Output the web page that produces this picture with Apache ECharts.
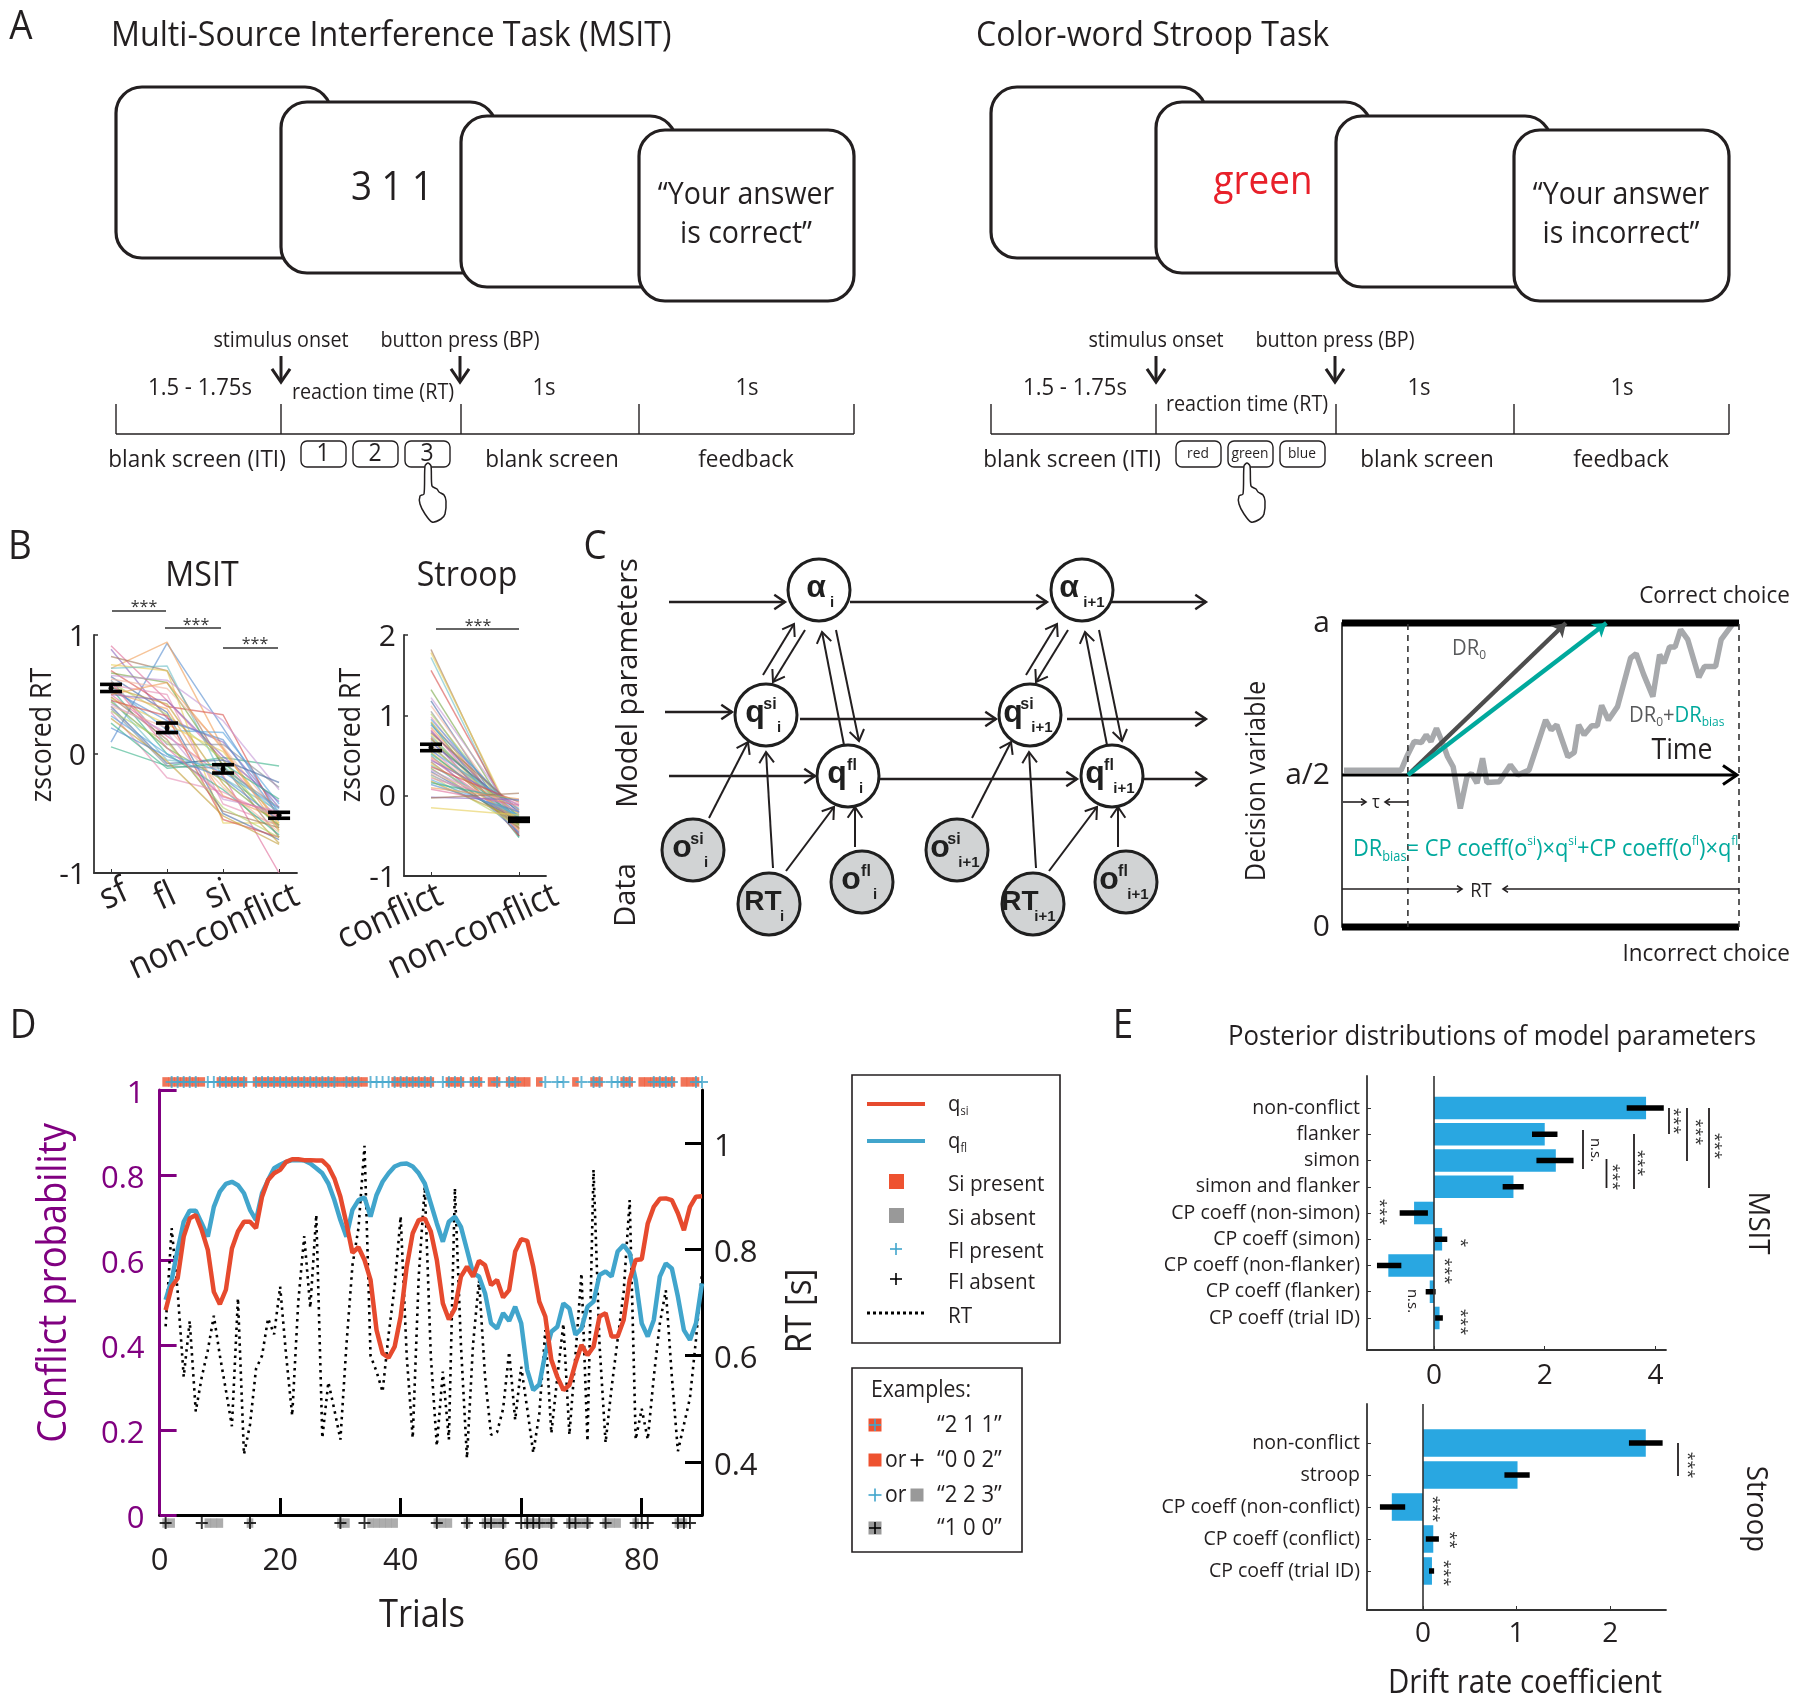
<!DOCTYPE html>
<html>
<head>
<meta charset="utf-8">
<title>Conflict task figure</title>
<style>
  html, body { margin: 0; padding: 0; background: #fff; }
  #chart { width: 1800px; height: 1699px; }
</style>
<script src="https://cdn.jsdelivr.net/npm/echarts@6/dist/echarts.min.js"></script>
</head>
<body>
<div id="chart"></div>
<script>
// panel B
var msitConditions = ['sf', 'fl', 'si', 'non-conflict'];
var stroopConditions = ['conflict', 'non-conflict'];
var msitSubjects = [
  [.06,-.10,-.03,-.10],[.10,.93,.22,-.50],[.72,.94,.05,-.60],[.91,.45,-.05,-.55],[.88,.30,.10,-.45],
  [.82,.70,-.10,-.70],[.75,.70,-.58,-.58],[.72,.74,-.20,-.48],[.70,.40,.33,-.55],[.68,.60,-.10,-.62],
  [.66,.62,.28,-.30],[.65,.35,-.50,-.72],[.63,.55,.06,-.52],[.62,.08,.08,-.28],[.60,.33,-.05,-.65],
  [.58,.50,-.42,-.60],[.57,.20,.18,-.42],[.56,.42,-.25,-.75],[.55,.00,-.30,-.68],[.54,.28,.12,-.52],
  [.52,.38,-.35,-.55],[.50,.15,-.18,-1.0],[.50,.45,-.02,-.40],[.48,.12,-.48,-.62],[.47,.25,.02,-.58],
  [.46,-.05,-.10,-.50],[.45,.32,-.55,-.70],[.44,.05,-.22,-.60],[.42,.18,-.38,-.48],[.40,-.08,-.05,-.24],
  [.40,.22,-.28,-.66],[.38,-.10,-.12,-.45],[.36,.10,-.45,-.70],[.35,-.20,-.32,-.54],[.32,.00,-.15,-.46],
  [.30,-.06,-.52,-.76],[.26,-.12,-.08,-.38],[.22,-.02,-.20,-.56],[.50,.60,.04,-.64],[.60,.05,-.36,-.50]
];
var msitMean = [.552, .22, -.128, -.515];
var msitLow = [.525, .18, -.16, -.54];
var msitHigh = [.585, .26, -.09, -.49];

var stroopSubjects = [
  [1.82,-.50],[1.78,-.45],[1.72,-.52],[1.56,-.42],[1.32,-.42],[1.22,-.30],[1.18,-.50],[1.12,-.38],[1.05,-.48],[1.02,-.35],
  [.98,-.44],[.95,-.28],[.92,-.40],[.90,-.52],[.88,-.22],[.85,-.36],[.82,-.46],[.80,-.30],[.78,-.18],[.76,-.42],
  [.74,-.34],[.72,-.50],[.70,-.26],[.68,-.38],[.66,-.20],[.64,-.44],[.62,-.32],[.60,-.24],[.58,-.40],[.56,-.16],
  [.54,-.36],[.52,-.28],[.50,-.46],[.48,-.22],[.46,-.34],[.44,-.12],[.42,-.40],[.40,-.30],[.38,-.26],[.36,-.08],
  [.34,-.36],[.32,-.20],[.30,-.32],[.28,-.14],[.26,-.28],[.24,-.38],[.22,-.10],[.20,-.24],[.18,-.30],[.16,-.06],
  [.14,-.20],[.10,-.04],[.08,-.12],[-.02,-.05],[-.03,.03],[-.15,-.24]
];
var stroopMean = [.6, -.3];
var stroopLow = [.56, -.32];
var stroopHigh = [.64, -.28];

var subjectColors = ['#3cb38a','#5b8fd0','#f0a05a','#e06f9d','#8e6bbf','#a5785a','#e6cf5a','#6fc0c8','#d9534f',
  '#7aa84a','#c79ad6','#4d6fa8','#f2b6a0','#8a8f99','#b5d36b','#e58fb5','#5aa7e0','#c4a03c'];

// panel C drift diffusion trace
var walkTime = [.5,14.9,16.3,18.2,20,21.2,22.4,23.8,25.2,26.6,28,29.8,31.5,32.6,34,35.4,36.5,39.6,42.4,44.3,47.1,51.3,52.7,54.1,
  56.9,58.5,59.6,61,62.9,64.3,65.4,67.1,69.4,72.7,74.1,76,78.3,80,81.1,82.5,83.9,85.3,87.1,89.9,91.3,94.1,95.5,98.3];
var walkValue = [.516,.516,.56,.61,.607,.632,.61,.654,.61,.56,.527,.39,.495,.505,.473,.555,.475,.478,.533,.5,.516,.681,.648,.665,
  .56,.574,.665,.632,.662,.662,.729,.681,.725,.885,.899,.83,.758,.896,.868,.921,.921,.978,.945,.822,.857,.857,.945,.995];
var tau = 16.6;
var dr0End = 56.4;
var drBiasEnd = 66.6;
var boundaryTicks = [0, .5, 1];
var boundaryLabels = {0: '0', 0.5: 'a/2', 1: 'a'};

// panel D
var qSi = [.482,.537,.557,.655,.698,.706,.67,.624,.525,.496,.53,.627,.667,.69,.69,.675,.749,.788,.804,.812,.831,.837,.837,.835,.835,.834,.834,.82,.792,.749,
  .686,.617,.63,.6,.553,.435,.38,.37,.396,.467,.584,.663,.694,.698,.667,.6,.498,.46,.486,.561,.584,.561,.598,.588,.541,.553,.512,.529,.62,.649,
  .645,.584,.502,.467,.365,.325,.294,.306,.357,.4,.376,.396,.467,.475,.42,.42,.459,.553,.6,.602,.686,.725,.744,.745,.741,.71,.67,.725,.749,.75];
var qFl = [.506,.553,.624,.69,.716,.716,.686,.655,.725,.761,.779,.784,.776,.757,.718,.694,.757,.788,.816,.824,.831,.835,.835,.834,.827,.816,.804,.78,.741,.694,
  .655,.718,.741,.747,.702,.753,.784,.804,.82,.826,.827,.82,.804,.78,.733,.686,.643,.69,.702,.678,.624,.569,.561,.522,.451,.439,.475,.457,.49,.451,
  .341,.294,.307,.38,.431,.443,.498,.486,.424,.439,.49,.502,.565,.573,.561,.62,.635,.616,.553,.451,.42,.459,.561,.592,.58,.514,.435,.412,.451,.545];
var rtTrace = [.655,.84,.72,.56,.665,.495,.56,.61,.675,.6,.535,.467,.708,.414,.47,.575,.6,.67,.64,.73,.6,.487,.7,.825,.69,.865,.445,.55,.498,.442,
  .62,.77,.84,.995,.6,.57,.532,.64,.73,.862,.6,.445,.75,.918,.6,.43,.57,.442,.915,.62,.407,.62,.742,.56,.451,.456,.5,.607,.479,.579,
  .5,.417,.49,.648,.454,.56,.66,.451,.6,.755,.439,.95,.62,.436,.54,.63,.72,.893,.442,.5,.442,.56,.66,.723,.56,.42,.47,.52,.63,.755];
var siPresentTrials = [1,2,3,4,5,6,7,10,11,12,13,14,16,17,18,19,20,21,22,23,24,25,26,27,28,29,30,31,32,33,34,39,40,41,42,43,44,45,
  48,49,50,52,53,55,56,58,59,60,61,63,69,72,73,77,78,80,81,82,83,84,85,87,88,89];
var siAbsentTrials = [1,2,8,9,10,15,30,31,35,36,37,38,39,46,47,48,51,54,55,56,57,61,62,63,64,65,68,69,70,71,74,75,76,79,86,87];
var flPresentTrials = [2,3,4,5,6,8,9,10,11,12,13,14,16,17,18,19,20,21,22,23,24,25,26,27,28,29,31,32,33,35,36,37,38,39,40,41,42,43,44,45,
  47,48,49,50,52,53,56,58,59,64,66,67,70,72,73,75,76,77,78,82,83,84,85,89,90];
var flAbsentTrials = [1,7,15,30,34,46,51,54,55,57,60,61,62,63,65,68,69,71,74,79,80,81,86,87,88];

// panel E
var msitParams = ['non-conflict','flanker','simon','simon and flanker','CP coeff (non-simon)','CP coeff (simon)','CP coeff (non-flanker)','CP coeff (flanker)','CP coeff (trial ID)'];
var msitCoef = [3.83,2.0,2.2,1.435,-.36,.147,-.825,-.077,.1];
var msitCoefLow = [3.48,1.77,1.85,1.24,-.62,.01,-1.03,-.15,.02];
var msitCoefHigh = [4.15,2.23,2.52,1.62,-.11,.24,-.59,.03,.16];
var stroopParams = ['non-conflict','stroop','CP coeff (non-conflict)','CP coeff (conflict)','CP coeff (trial ID)'];
var stroopCoef = [2.38,1.01,-.333,.11,.096];
var stroopCoefLow = [2.2,.87,-.46,.03,.064];
var stroopCoefHigh = [2.56,1.14,-.19,.17,.119];

var FONT = '"Open Sans"';
var INK = '#231f20';
var RED = '#e64a2e';
var ORANGE = '#ee5230';
var BLUE = '#41a5cc';
var TEAL = '#00a99d';
var PURPLE = '#800080';
var BARBLUE = '#29a7e1';
var PLUS = 'path://M4.2 0h1.6v4.2H10v1.6H5.8V10H4.2V5.8H0V4.2h4.2z';

var gfx = [];
var measureCtx = document.createElement('canvas').getContext('2d');

function txt(text, x, y, size, o) {
  o = o || {};
  gfx.push({
    type: 'text', x: x, y: o.rot ? y : y + 1.5, rotation: o.rot || 0, scaleX: o.sx || .92, z: 10,
    style: {
      text: text, x: 0, y: 0,
      font: (o.weight || 'normal') + ' ' + size + 'px ' + (o.font || FONT),
      fill: o.fill || INK,
      textAlign: o.align || 'center', textVerticalAlign: 'middle',
      align: o.align || 'center', verticalAlign: 'middle'
    }
  });
}
// text made of pieces with sub and superscripts
function runs(x, y, parts, sx) {
  sx = sx || .92;
  parts.forEach(function (p) {
    measureCtx.font = p[1] + 'px ' + FONT;
    txt(p[0], x, y + (p[2] || 0), p[1], {align: 'left', fill: p[3], sx: sx});
    x += measureCtx.measureText(p[0]).width * sx;
  });
}
function line(x1, y1, x2, y2, w, color, dash) {
  gfx.push({type: 'line', z: 5, shape: {x1: x1, y1: y1, x2: x2, y2: y2},
    style: {stroke: color || INK, lineWidth: w || 2, lineDash: dash || null}});
}
function arrow(x1, y1, x2, y2, w, head, color) {
  line(x1, y1, x2, y2, w, color);
  var a = Math.atan2(y2 - y1, x2 - x1);
  var h = head || 10;
  gfx.push({type: 'polyline', z: 5, shape: {points: [
    [x2 - h * Math.cos(a - .6), y2 - h * Math.sin(a - .6)], [x2, y2],
    [x2 - h * Math.cos(a + .6), y2 - h * Math.sin(a + .6)]]},
    style: {stroke: color || INK, lineWidth: w || 2, fill: null}});
}
function box(x, y, w, h, r, lw, fill) {
  gfx.push({type: 'rect', z: 4, shape: {x: x, y: y, width: w, height: h, r: r},
    style: {fill: fill || '#fff', stroke: INK, lineWidth: lw}});
}
function hand(x, y) {
  var pts = [[-4,30],[-3,2],[0,-1],[3,2],[4,22],[9,25],[11,28],[16,31],[18,37],[17,50],[13,55],[4,58],[-3,50],[-8,40],[-8,32]];
  gfx.push({type: 'polygon', x: x, y: y, z: 6, shape: {points: pts, smooth: .25},
    style: {fill: '#fff', stroke: INK, lineWidth: 1.5}});
}
function stars(s, x, y, rotated) {
  if (rotated) txt(s, x - 3, y, 16, {rot: -Math.PI / 2, sx: 1, fill: '#333'});
  else txt(s, x, y + 3, 16, {sx: 1, fill: '#333'});
}

// panel A, dx shifts the second task
function taskPanel(dx, answer, keys, keySize, hx, rtX, rtY) {
  [[116, 87], [281, 102], [461, 116], [639, 130]].forEach(function (c) {
    box(c[0] + dx, c[1], 215, 171, 26, 3.2);
  });
  txt(answer[0], 746 + dx, 194, 31);
  txt(answer[1], 746 + dx, 233, 31);
  line(116 + dx, 434, 854 + dx, 434, 1.6);
  [116, 281, 461, 639, 854].forEach(function (x) { line(x + dx, 404, x + dx, 434, 1.4); });
  txt('stimulus onset', 281 + dx, 339, 21.5);
  txt('button press (BP)', 460 + dx, 339, 21.5);
  arrow(281 + dx, 356, 281 + dx, 382, 3, 16);
  arrow(460 + dx, 356, 460 + dx, 382, 3, 16);
  txt('1.5 - 1.75s', 200 + dx, 387, 24);
  txt('reaction time (RT)', rtX, rtY, 21.5);
  txt('1s', 544 + dx, 387, 24);
  txt('1s', 747 + dx, 387, 24);
  txt('blank screen (ITI)', 197 + dx, 459, 24.5);
  txt('blank screen', 552 + dx, 459, 24.5);
  txt('feedback', 746 + dx, 459, 24.5);
  keys.forEach(function (k, i) {
    var x = 301 + dx + i * 52;
    box(x, 441, 45, 26, 6, 1.4);
    txt(k, x + 22, 452, keySize);
  });
  hand(hx, 464);
}

txt('A', 21, 26, 40);
txt('Multi-Source Interference Task (MSIT)', 111, 34.5, 35, {align: 'left'});
txt('Color-word Stroop Task', 976, 34.5, 35, {align: 'left'});
taskPanel(0, ['\u201cYour answer', 'is correct\u201d'], ['1', '2', '3'], 25, 428, 373, 391);
txt('3 1 1', 392, 187, 40);
taskPanel(875, ['\u201cYour answer', 'is incorrect\u201d'], ['red', 'green', 'blue'], 15, 1247, 1247, 403);
txt('green', 1263, 181, 40, {fill: '#e8202a'});

// panel letters and panel B text
txt('B', 20, 546, 40);
txt('C', 595, 546, 40);
txt('D', 23, 1025, 40);
txt('E', 1123, 1025, 40);
txt('MSIT', 202, 575, 35);
txt('Stroop', 467, 575, 35);
txt('zscored RT', 43, 735, 29, {rot: Math.PI / 2});
txt('zscored RT', 352, 735, 29, {rot: Math.PI / 2});
var tilt = 24.6 * Math.PI / 180;
txt(msitConditions[0], 114, 895, 36, {rot: tilt});
txt(msitConditions[1], 165, 897, 36, {rot: tilt});
txt(msitConditions[2], 218, 895, 36, {rot: tilt});
txt(msitConditions[3], 214, 932, 36, {rot: tilt});
txt(stroopConditions[0], 390, 917, 36, {rot: tilt});
txt(stroopConditions[1], 473, 932, 36, {rot: tilt});
line(112, 611, 166, 611, 1.4, '#333');
line(165, 628, 221, 628, 1.4, '#333');
line(223, 648, 278, 648, 1.4, '#333');
line(436, 629, 519, 629, 1.4, '#333');
stars('***', 144, 603);
stars('***', 196, 621);
stars('***', 255, 640);
stars('***', 478, 622);

// panel C graphical model
txt('Model parameters', 629, 683, 29, {rot: Math.PI / 2, sx: 1});
txt('Data', 627, 895, 29, {rot: Math.PI / 2, sx: 1});
var NODE_FONT = '"Liberation Sans"';
function nodeText(text, x, y, font) {
  gfx.push({type: 'text', x: x, y: y, z: 8, style: {text: text, font: font + ' ' + NODE_FONT,
    fill: '#1f1f1f', textAlign: 'center', textVerticalAlign: 'middle', align: 'center', verticalAlign: 'middle'}});
}
function node(cx, cy, fill, main, sup, sub, next) {
  gfx.push({type: 'circle', z: 7, shape: {cx: cx, cy: cy, r: 31}, style: {fill: fill, stroke: '#1f1f1f', lineWidth: 3}});
  var mx = next ? -17 : -11;
  if (main === 'RT') mx = next ? -13 : -6;
  if (main === '\u03b1') mx = next ? -13 : -3;
  nodeText(main, cx + mx, cy - 2, 'bold ' + (main === 'RT' ? 28 : 32) + 'px');
  if (sup) nodeText(sup, cx + (next ? -3 : 4), cy - 10, 'bold 16px');
  nodeText(sub, cx + (next ? 12 : 13), cy + 13, 'bold 15px');
}
arrow(669, 602, 785, 602, 2.4, 13);
arrow(850, 602, 1047, 602, 2.4, 13);
arrow(1111, 602, 1206, 602, 2.4, 13);
arrow(665, 712, 732, 712, 2.4, 13);
arrow(800, 719, 996, 719, 2.4, 13);
arrow(1067, 719, 1206, 719, 2.4, 13);
arrow(669, 776, 815, 776, 2.4, 13);
arrow(880, 779, 1077, 779, 2.4, 13);
arrow(1143, 779, 1206, 779, 2.4, 13);
[0, 263].forEach(function (dx) {
  arrow(763 + dx, 675, 794 + dx, 624, 2, 13);
  arrow(805 + dx, 630, 773 + dx, 682, 2, 13);
  arrow(844 + dx, 745, 822 + dx, 632, 2, 13);
  arrow(836 + dx, 630, 859 + dx, 741, 2, 13);
  arrow(709 + dx, 818, 748 + dx, 742, 2, 13);
  arrow(773 + dx, 868, 766 + dx, 752, 2, 13);
  arrow(786 + dx, 871, 834 + dx, 807, 2, 13);
  arrow(855 + dx, 847, 855 + dx, 807, 2, 13);
});
var GREYNODE = '#d1d3d4';
node(819, 590, '#fff', '\u03b1', null, 'i');
node(1082, 590, '#fff', '\u03b1', null, 'i+1', true);
node(766, 715, '#fff', 'q', 'si', 'i');
node(1030, 715, '#fff', 'q', 'si', 'i+1', true);
node(848, 776, '#fff', 'q', 'fl', 'i');
node(1112, 776, '#fff', 'q', 'fl', 'i+1', true);
node(693, 850, GREYNODE, 'o', 'si', 'i');
node(957, 850, GREYNODE, 'o', 'si', 'i+1', true);
node(769, 904, GREYNODE, 'RT', null, 'i');
node(1033, 904, GREYNODE, 'RT', null, 'i+1', true);
node(862, 882, GREYNODE, 'o', 'fl', 'i');
node(1126, 882, GREYNODE, 'o', 'fl', 'i+1', true);

// panel C drift diffusion text
txt('Decision variable', 1257, 781, 27.5, {rot: Math.PI / 2});
txt('Correct choice', 1790, 595, 24.5, {align: 'right'});
txt('Incorrect choice', 1790, 953, 24.5, {align: 'right'});
runs(1452, 647, [['DR', 22, 0, '#58595b'], ['0', 13, 7, '#58595b']]);
runs(1629, 714, [['DR', 22, 0, '#58595b'], ['0', 13, 7, '#58595b'], ['+', 22, 0, '#58595b'], ['DR', 22, 0, TEAL], ['bias', 13, 7, TEAL]]);
txt('Time', 1682, 749, 29);
arrow(1342, 775, 1737, 775, 3, 17, '#000');
arrow(1343, 802, 1366, 802, 1.6, 6);
arrow(1408, 802, 1385, 802, 1.6, 6);
txt('\u03c4', 1376, 801, 18);
arrow(1342, 889, 1462, 889, 1.6, 6);
arrow(1739, 889, 1503, 889, 1.6, 6);
txt('RT', 1481, 890, 20);
runs(1353, 848, [['DR', 24, 0, TEAL], ['bias', 14, 8, TEAL], ['= CP coeff(o', 24, 0, TEAL], ['si', 13, -8, TEAL], [')\u00d7q', 24, 0, TEAL], ['si', 13, -8, TEAL],
  ['+CP coeff(o', 24, 0, TEAL], ['fl', 13, -8, TEAL], [')\u00d7q', 24, 0, TEAL], ['fl', 13, -8, TEAL]], .91);

// panel D side text and legends
txt('Conflict probability', 55, 1283, 39.5, {rot: Math.PI / 2, fill: PURPLE});
txt('RT [s]', 801, 1311, 36, {rot: Math.PI / 2});
txt('Trials', 422, 1615, 37.5);
box(852, 1075, 208, 268, 0, 1.6);
line(867, 1104, 925, 1104, 4, RED);
line(867, 1141, 925, 1141, 4, BLUE);
runs(948, 1103, [['q', 22], ['si', 12, 7]]);
runs(948, 1140, [['q', 22], ['fl', 12, 7]]);
gfx.push({type: 'rect', z: 6, shape: {x: 889, y: 1174, width: 15, height: 15}, style: {fill: ORANGE}});
gfx.push({type: 'rect', z: 6, shape: {x: 889, y: 1208, width: 15, height: 15}, style: {fill: '#999'}});
function legendPlus(x, y, color, s) {
  s = s || 6;
  line(x - s, y, x + s, y, 1.6, color);
  line(x, y - s, x, y + s, 1.6, color);
}
legendPlus(896, 1249, BLUE);
legendPlus(896, 1279, '#000');
line(867, 1313, 925, 1313, 3, '#000', [3, 3]);
txt('Si present', 948, 1183.5, 22.5, {align: 'left'});
txt('Si absent', 948, 1217, 22.5, {align: 'left'});
txt('Fl present', 948, 1250, 22.5, {align: 'left'});
txt('Fl absent', 948, 1281, 22.5, {align: 'left'});
txt('RT', 948, 1315.5, 22.5, {align: 'left'});
box(852, 1368, 170, 184, 0, 1.6);
txt('Examples:', 871, 1389, 23, {align: 'left'});
function swatch(x, y, color) {
  gfx.push({type: 'rect', z: 4.5, shape: {x: x - 6.5, y: y - 6.5, width: 13, height: 13}, style: {fill: color}});
}
swatch(875, 1425, ORANGE); legendPlus(875, 1425, BLUE);
swatch(875, 1460, ORANGE); txt('or', 885, 1459, 23, {align: 'left'}); legendPlus(917, 1460, '#000', 6.5);
legendPlus(875, 1495, BLUE, 6.5); txt('or', 885, 1494, 23, {align: 'left'}); swatch(917, 1495, '#999');
swatch(875, 1528, '#999'); legendPlus(875, 1528, '#000');
txt('\u201c2 1 1\u201d', 937, 1424, 24, {align: 'left'});
txt('\u201c0 0 2\u201d', 937, 1459, 24, {align: 'left'});
txt('\u201c2 2 3\u201d', 937, 1494, 24, {align: 'left'});
txt('\u201c1 0 0\u201d', 937, 1527, 24, {align: 'left'});

// panel E text
txt('Posterior distributions of model parameters', 1492, 1035.5, 28);
line(1583, 1130, 1583, 1169, 1.8);
line(1606.5, 1159, 1606.5, 1188, 1.8);
line(1634, 1134, 1634, 1189, 1.8);
line(1669, 1108, 1669, 1134, 1.8);
line(1687, 1108, 1687, 1161, 1.8);
line(1709, 1108, 1709, 1188, 1.8);
txt('n.s.', 1595, 1150, 15, {rot: -Math.PI / 2, sx: 1});
stars('***', 1616, 1177, true);
stars('***', 1641, 1163, true);
stars('***', 1677, 1121, true);
stars('***', 1699, 1132, true);
stars('***', 1718, 1146, true);
stars('***', 1383, 1212, true);
stars('*', 1464, 1243, true);
stars('***', 1448, 1271, true);
txt('n.s.', 1412, 1301, 15, {rot: -Math.PI / 2, sx: 1});
stars('***', 1464, 1322, true);
txt('MSIT', 1758, 1223, 30, {rot: -Math.PI / 2});
line(1678, 1443, 1678, 1476, 1.8);
stars('***', 1691, 1465, true);
stars('***', 1436, 1509, true);
stars('**', 1453, 1540, true);
stars('***', 1447, 1573, true);
txt('Stroop', 1756, 1509, 30, {rot: -Math.PI / 2});
txt('Drift rate coefficient', 1525, 1682, 32);

// series renderers
function renderSem(params, api) {
  var x = api.value(0), half = 11;
  var lo = api.coord([x, api.value(1)]), hi = api.coord([x, api.value(3)]), mid = api.coord([x, api.value(2)]);
  var st = {stroke: '#000', lineWidth: 3.6};
  return {type: 'group', children: [
    {type: 'line', shape: {x1: lo[0], y1: lo[1], x2: hi[0], y2: hi[1]}, style: st},
    {type: 'line', shape: {x1: lo[0] - half, y1: lo[1], x2: lo[0] + half, y2: lo[1]}, style: st},
    {type: 'line', shape: {x1: hi[0] - half, y1: hi[1], x2: hi[0] + half, y2: hi[1]}, style: st},
    {type: 'circle', shape: {cx: mid[0], cy: mid[1], r: 2.5}, style: {fill: '#000'}}
  ]};
}
function renderCoef(params, api) {
  var row = api.value(1);
  var a = api.coord([0, row]), b = api.coord([api.value(0), row]);
  var h = api.size([0, 1])[1] * .86;
  return {type: 'rect', shape: {x: Math.min(a[0], b[0]), y: a[1] - h / 2, width: Math.abs(b[0] - a[0]), height: h},
    style: {fill: BARBLUE}};
}
function renderCoefError(params, api) {
  var row = api.value(2);
  var a = api.coord([api.value(0), row]), b = api.coord([api.value(1), row]);
  return {type: 'line', shape: {x1: a[0], y1: a[1], x2: b[0], y2: b[1]}, style: {stroke: '#000', lineWidth: 5.5}};
}

function subjectSeries(rows, gridIndex, startIndex) {
  return rows.map(function (r, i) {
    return {
      type: 'line', xAxisIndex: gridIndex, yAxisIndex: gridIndex, silent: true, symbol: 'none',
      lineStyle: {width: 1.5, color: subjectColors[(i + startIndex) % subjectColors.length], opacity: .62},
      data: r.map(function (v, k) { return [k, v]; })
    };
  });
}
function semSeries(mean, low, high, gridIndex) {
  return {
    type: 'custom', xAxisIndex: gridIndex, yAxisIndex: gridIndex, renderItem: renderSem, z: 5,
    data: mean.map(function (m, k) { return [k, low[k], m, high[k]]; })
  };
}
function coefSeries(coef, axisIndex) {
  return {
    type: 'custom', xAxisIndex: axisIndex, yAxisIndex: axisIndex, renderItem: renderCoef, z: 2,
    data: coef.map(function (v, i) { return [v, i]; }),
    markLine: {silent: true, symbol: 'none', label: {show: false}, lineStyle: {color: '#333', width: 1.6, type: 'solid'}, data: [{xAxis: 0}]}
  };
}
function coefErrorSeries(low, high, axisIndex) {
  return {
    type: 'custom', xAxisIndex: axisIndex, yAxisIndex: axisIndex, renderItem: renderCoefError, z: 3,
    data: low.map(function (v, i) { return [v, high[i], i]; })
  };
}
function trialPoints(trials, y) {
  return trials.map(function (t) { return [t, y]; });
}
function toSeries(arr) {
  return arr.map(function (v, i) { return [i + 1, v]; });
}

function axisBase(index, o) {
  var a = {
    gridIndex: index, type: 'value', splitLine: {show: false},
    axisLine: {show: true, onZero: false, lineStyle: {color: '#333', width: 1.8}},
    axisTick: {show: true, inside: true, length: 4, lineStyle: {color: '#333', width: 1.5}},
    axisLabel: {color: INK, fontFamily: FONT, fontSize: 29, margin: 8}
  };
  for (var k in o) a[k] = o[k];
  return a;
}
// tick labels that sit a little below their tick, as in the figure
function loweredLabel(size, color, margin, drop, customValues) {
  var l = {
    margin: margin,
    formatter: function (v) { return '{n|' + v + '}'; },
    rich: {n: {color: color, fontFamily: FONT, fontSize: size, padding: [drop, 0, 0, 0]}}
  };
  if (customValues) l.customValues = customValues;
  return l;
}

var D = 3; // grid index of the trials panel
var option = {
  animation: false,
  backgroundColor: '#fff',
  graphic: {elements: gfx},
  grid: [
    {left: 94, top: 635, width: 203, height: 238},
    {left: 404, top: 635, width: 142, height: 241},
    {left: 1342, top: 623, width: 397, height: 304},
    {left: 159.6, top: 1090, width: 542.4, height: 425},
    {left: 1367, top: 1076, width: 299, height: 274},
    {left: 1367, top: 1404, width: 299, height: 206}
  ],
  xAxis: [
    axisBase(0, {min: -.304, max: 3.32, axisLabel: {show: false},
      axisTick: {show: true, inside: true, length: 4, customValues: [0, 1, 2, 3], lineStyle: {color: '#333'}}}),
    axisBase(1, {min: -.307, max: 1.307, axisLabel: {show: false},
      axisTick: {show: true, inside: true, length: 4, customValues: [0, 1], lineStyle: {color: '#333'}}}),
    axisBase(2, {min: 0, max: 100, show: false}),
    axisBase(3, {min: 0, max: 90,
      axisLine: {show: true, onZero: false, lineStyle: {color: '#000', width: 3}},
      axisTick: {show: true, inside: true, length: 17, customValues: [20, 40, 60, 80], lineStyle: {color: '#000', width: 3}},
      axisLabel: {color: INK, fontFamily: FONT, fontSize: 31, margin: 31, customValues: [0, 20, 40, 60, 80]}}),
    axisBase(4, {min: -1.21, max: 4.19,
      axisTick: {show: true, inside: true, length: 4, customValues: [0, 2, 4], lineStyle: {color: '#333'}},
      axisLabel: {color: INK, fontFamily: FONT, fontSize: 28, margin: 12, customValues: [0, 2, 4]}}),
    axisBase(5, {min: -.598, max: 2.596,
      axisTick: {show: true, inside: true, length: 4, customValues: [0, 1, 2], lineStyle: {color: '#333'}},
      axisLabel: {color: INK, fontFamily: FONT, fontSize: 28, margin: 10, customValues: [0, 1, 2]}})
  ],
  yAxis: [
    axisBase(0, {min: -1, max: 1, interval: 1, axisLabel: loweredLabel(30, INK, 8, 4)}),
    axisBase(1, {min: -1, max: 2, interval: 1, axisLabel: loweredLabel(30, INK, 8, 4)}),
    axisBase(2, {min: 0, max: 1, axisTick: {show: false},
      axisLabel: {color: INK, fontFamily: FONT, fontSize: 30, margin: 12, customValues: boundaryTicks,
        formatter: function (v) { return boundaryLabels[v]; }}}),
    axisBase(3, {min: 0, max: 1, interval: .2,
      axisLine: {show: true, onZero: false, lineStyle: {color: PURPLE, width: 3}},
      axisTick: {show: true, inside: true, length: 17, lineStyle: {color: PURPLE, width: 3}},
      axisLabel: loweredLabel(31, PURPLE, 15, 8)}),
    axisBase(4, {min: -1.22, max: 9.22, inverse: true,
      axisTick: {show: true, inside: true, length: 4, customValues: [0, 1, 2, 3, 4, 5, 6, 7, 8], lineStyle: {color: '#333'}},
      axisLabel: {color: INK, fontFamily: FONT, fontSize: 19.5, margin: 7, customValues: [0, 1, 2, 3, 4, 5, 6, 7, 8],
        formatter: function (v) { return msitParams[v]; }}}),
    axisBase(5, {min: -1.22, max: 5.22, inverse: true,
      axisTick: {show: true, inside: true, length: 4, customValues: [0, 1, 2, 3, 4], lineStyle: {color: '#333'}},
      axisLabel: {color: INK, fontFamily: FONT, fontSize: 19.5, margin: 7, customValues: [0, 1, 2, 3, 4],
        formatter: function (v) { return stroopParams[v]; }}}),
    axisBase(3, {min: .3, max: 1.1, position: 'right',
      axisLine: {show: true, onZero: false, lineStyle: {color: '#000', width: 3}},
      axisTick: {show: true, inside: true, length: 17, customValues: [.4, .6, .8, 1], lineStyle: {color: '#000', width: 3}},
      axisLabel: loweredLabel(31, INK, 12, 8, [.4, .6, .8, 1])})
  ],
  series: [].concat(
    subjectSeries(msitSubjects, 0, 0),
    subjectSeries(stroopSubjects, 1, 5),
    [
      semSeries(msitMean, msitLow, msitHigh, 0),
      semSeries(stroopMean, stroopLow, stroopHigh, 1),
      {type: 'line', xAxisIndex: 2, yAxisIndex: 2, symbol: 'none', silent: true, clip: false,
        lineStyle: {color: '#a7a9ac', width: 5.5},
        data: walkTime.map(function (t, i) { return [t, walkValue[i]]; })},
      {type: 'line', xAxisIndex: 2, yAxisIndex: 2, symbol: 'none', silent: true, clip: false,
        lineStyle: {color: '#000', width: 7}, data: [[0, 1], [100, 1]]},
      {type: 'line', xAxisIndex: 2, yAxisIndex: 2, symbol: 'none', silent: true, clip: false,
        lineStyle: {color: '#000', width: 7}, data: [[0, 0], [100, 0]]},
      {type: 'line', xAxisIndex: 2, yAxisIndex: 2, symbol: 'none', silent: true,
        lineStyle: {color: '#333', width: 1.6, type: [6, 5]}, data: [[tau, 0], [tau, 1]]},
      {type: 'line', xAxisIndex: 2, yAxisIndex: 2, symbol: 'none', silent: true, clip: false,
        lineStyle: {color: '#333', width: 1.6, type: [6, 5]}, data: [[100, 0], [100, 1]]},
      {type: 'line', xAxisIndex: 2, yAxisIndex: 2, data: [], silent: true,
        markLine: {silent: true, symbol: ['none', 'arrow'], symbolSize: 13, label: {show: false},
          data: [
            [{coord: [tau, .5], lineStyle: {color: '#4d4d4d', width: 4.5, type: 'solid'}, itemStyle: {color: '#4d4d4d'}}, {coord: [dr0End, 1]}],
            [{coord: [tau, .5], lineStyle: {color: TEAL, width: 4.5, type: 'solid'}, itemStyle: {color: TEAL}}, {coord: [drBiasEnd, 1]}]
          ]}},
      {name: 'RT', type: 'line', xAxisIndex: D, yAxisIndex: 6, symbol: 'none', silent: true, z: 2,
        lineStyle: {color: '#000', width: 2.6, type: [2.5, 4.5]}, data: toSeries(rtTrace)},
      {name: 'q fl', type: 'line', xAxisIndex: D, yAxisIndex: D, symbol: 'none', silent: true, z: 3,
        lineStyle: {color: BLUE, width: 4.5}, data: toSeries(qFl)},
      {name: 'q si', type: 'line', xAxisIndex: D, yAxisIndex: D, symbol: 'none', silent: true, z: 4,
        lineStyle: {color: RED, width: 4.5}, data: toSeries(qSi)},
      {name: 'Si present', type: 'scatter', xAxisIndex: D, yAxisIndex: D, silent: true, clip: false, symbol: 'rect', symbolSize: [6.6, 9.5],
        itemStyle: {color: ORANGE}, data: trialPoints(siPresentTrials, 1.019)},
      {name: 'Fl present', type: 'scatter', xAxisIndex: D, yAxisIndex: D, silent: true, clip: false, symbol: PLUS, symbolSize: 12, z: 5,
        itemStyle: {color: BLUE}, data: trialPoints(flPresentTrials, 1.019)},
      {name: 'Si absent', type: 'scatter', xAxisIndex: D, yAxisIndex: D, silent: true, clip: false, symbol: 'rect', symbolSize: [6.6, 9.5],
        itemStyle: {color: '#999'}, data: trialPoints(siAbsentTrials, -.019)},
      {name: 'Fl absent', type: 'scatter', xAxisIndex: D, yAxisIndex: D, silent: true, clip: false, symbol: PLUS, symbolSize: 12, z: 5,
        itemStyle: {color: '#000'}, data: trialPoints(flAbsentTrials, -.019)},
      coefSeries(msitCoef, 4),
      coefErrorSeries(msitCoefLow, msitCoefHigh, 4),
      coefSeries(stroopCoef, 5),
      coefErrorSeries(stroopCoefLow, stroopCoefHigh, 5)
    ]
  )
};

var myChart = echarts.init(document.getElementById('chart'));
myChart.setOption(option);
</script>
</body>
</html>
